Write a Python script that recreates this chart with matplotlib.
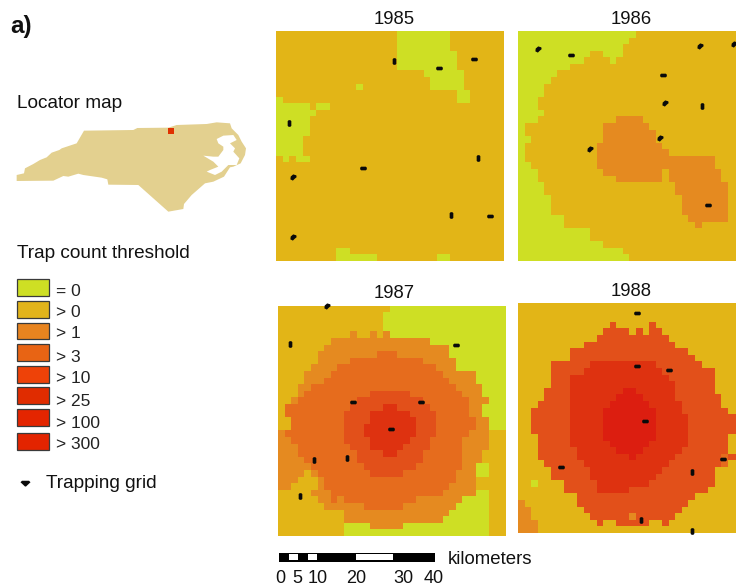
import matplotlib
matplotlib.use("Agg")
import matplotlib.pyplot as plt
import numpy as np
from matplotlib.colors import to_rgb
from matplotlib.patches import Rectangle, Polygon
from matplotlib.path import Path

plt.rcParams['font.family'] = ['Liberation Sans', 'DejaVu Sans']
W, H = 736, 587

# class colours on the maps / in the legend
map_colors = ['#CEDF24', '#E2B517', '#E58A20', '#E66C1D', '#E2501A', '#DE3210', '#DC1E10']
legend_colors = ['#CEDF24', '#E2B41B', '#E8841F', '#E86414', '#EE4208', '#E02C00', '#E42500', '#E32400']
legend_labels = ['= 0', '> 0', '> 1', '> 3', '> 10', '> 25', '> 100', '> 300']

# each row: "startcol:class" runs
rows_1985 = [
 "0:1 18:0 26:1", "0:1 18:0 26:1", "0:1 18:0 26:1", "0:1 18:0 27:1", "0:1 18:0 27:1",
 "0:1 18:0 27:1", "0:1 22:0 28:1", "0:1 23:0 28:1", "0:1 12:0 13:1 23:0 28:1", "0:1 27:0 29:1",
 "0:0 1:1 27:0 29:1", "0:0 5:1 6:0 8:1", "0:0 6:1", "0:0 5:1", "0:0 5:1",
 "0:0 5:1", "0:0 4:1", "0:0 4:1", "0:0 4:1", "0:1 1:0 2:1 3:0 5:1",
 "0:1", "0:1", "0:1", "0:1", "0:1", "0:1", "0:1", "0:1", "0:1", "0:1",
 "0:1", "0:1", "0:1", "0:1 9:0 11:1", "0:1 9:0 15:1 24:0 26:1",
]
rows_1986 = [
 "0:0 18:1", "0:0 17:1", "0:0 16:1", "0:0 11:1 13:0 16:1", "0:0 10:1 14:0 15:1",
 "0:0 8:1", "0:0 6:1", "0:0 5:1", "0:0 4:1", "0:0 4:1",
 "0:0 3:1", "0:0 3:1", "0:0 4:1", "0:0 3:1 15:2 19:1", "0:0 1:1 13:2 20:1",
 "0:0 1:1 13:2 21:1", "0:0 2:1 13:2 21:1", "0:0 1:1 12:2 22:1", "0:0 1:1 12:2 23:1", "0:0 1:1 12:2 30:1",
 "0:0 2:1 12:2 30:1", "0:0 3:1 13:2 22:1 23:2 31:1", "0:0 3:1 15:2 22:1 23:2 31:1", "0:0 4:1 24:2 32:1", "0:0 4:1 24:2 32:1",
 "0:0 5:1 25:2 32:1", "0:0 5:1 25:2 32:1", "0:0 5:1 25:2 32:1", "0:0 7:1 26:2 32:1", "0:0 7:1 27:2 28:1",
 "0:0 11:1", "0:0 11:1", "0:0 13:1", "0:0 16:1", "0:0 17:1",
]
rows_1987 = [
 "0:1 17:0", "0:1 16:0", "0:1 16:0", "0:1 16:0", "0:1 11:2 12:1 14:2 15:1 16:2 17:0",
 "0:1 8:2 23:0", "0:1 7:2 26:0", "0:1 6:2 15:3 18:2 26:0", "0:1 6:2 11:3 22:2 27:0", "0:1 5:2 9:3 24:2 27:0",
 "0:1 4:2 8:3 25:2 30:0", "0:1 4:2 7:3 26:2 30:0", "0:1 3:2 5:3 27:2 31:0", "0:1 3:2 4:3 14:4 20:3 28:2 31:0",
 "0:1 2:2 3:3 12:4 22:3 29:2 32:0", "0:1 1:3 11:4 16:5 18:4 23:3 29:2 31:0", "0:1 1:3 10:4 14:5 20:4 24:3 29:2 31:0",
 "0:1 2:3 10:4 14:5 21:4 24:3 30:2 32:0", "0:1 2:3 10:4 13:5 21:4 24:3 30:2 32:0", "0:2 1:3 10:4 13:5 21:4 24:3 29:2 32:1",
 "0:2 2:3 10:4 14:5 20:4 23:3 28:2 32:1", "0:2 3:3 11:4 14:5 19:4 23:3 28:2 32:1", "0:2 3:3 12:4 16:5 18:4 22:3 28:2 31:1",
 "0:2 4:3 12:4 22:3 28:2 31:1", "0:2 5:3 13:4 21:3 28:2 30:0 32:1", "0:2 4:1 5:2 6:3 14:4 19:3 27:2 30:0 32:1",
 "0:2 3:1 6:2 7:3 27:2 30:1", "0:2 2:1 6:2 7:3 26:2 30:1", "0:1 5:2 8:3 25:2 30:0 32:1",
 "0:1 6:2 8:3 9:2 10:3 21:2 28:0 32:1", "0:1 7:2 13:3 19:2 27:0 32:1", "0:1 10:2 26:0 32:1", "0:1 10:2 25:0 32:1",
 "0:1 10:0 14:2 19:0 32:1", "0:1 10:0 32:1",
]
rows_1988 = [
 "0:1", "0:1", "0:1", "0:1 14:4 15:1 20:4 21:1", "0:1 13:4 17:1 18:4 19:1 20:4 22:1",
 "0:1 12:4 23:1", "0:1 10:4 24:1", "0:1 8:4 26:1", "0:1 8:4 27:1", "0:1 5:4 11:5 21:4 28:1",
 "0:1 5:4 10:5 22:4 30:1", "0:1 5:4 8:5 23:4 30:1", "0:1 5:4 8:5 24:4 30:1", "0:1 4:4 8:5 16:6 18:5 24:4 30:1",
 "0:1 4:4 8:5 15:6 19:5 24:4 31:1", "0:1 3:4 8:5 14:6 20:5 25:4 31:1", "0:1 2:4 8:5 13:6 21:5 25:4 32:1",
 "0:1 2:4 8:5 13:6 21:5 26:4", "0:1 2:4 8:5 13:6 21:5 26:4", "0:1 2:4 8:5 13:6 21:5 26:4",
 "0:1 3:4 8:5 13:6 21:5 26:4 32:1", "0:1 3:4 8:5 14:6 20:5 26:4 32:1", "0:1 3:4 9:5 15:6 19:5 25:4 32:1",
 "0:1 3:4 9:5 17:6 18:5 24:4 31:3 32:4", "0:1 4:4 10:5 23:4 31:3 32:1", "0:1 5:4 11:5 22:4 30:1", "0:1 5:4 11:5 21:4 30:1",
 "0:1 2:0 3:1 7:4 12:5 20:4 30:1", "0:1 7:4 12:5 17:4 29:1", "0:1 9:4 27:1", "0:2 1:1 9:4 26:1", "0:2 2:1 10:4 25:1",
 "0:2 2:1 11:4 17:2 18:4 24:1", "0:2 3:1 12:4 13:1 15:4 20:1 22:4 23:1", "0:2 3:1",
]

# trap positions in grid cells: (col, row, shape)
traps_1985 = [(17.57,4.57,'v'),(24.27,5.63,'h'),(29.48,4.30,'h'),(1.94,14.06,'v'),(30.07,19.39,'v'),
              (12.95,20.82,'h'),(2.48,22.18,'b'),(26.05,28.02,'v'),(31.91,28.22,'h'),(2.48,31.32,'b')]
traps_1986 = [(3.05,2.74,'b'),(8.07,3.70,'h'),(27.77,2.23,'b'),(33.0,1.98,'b'),(22.03,6.65,'h'),
              (22.44,10.96,'b'),(28.07,11.37,'v'),(21.68,16.30,'b'),(10.91,17.92,'b'),(29.04,26.45,'h')]
traps_1987 = [(7.41,0.05,'b'),(1.83,5.79,'v'),(27.2,5.99,'h'),(11.47,14.57,'h'),(21.83,14.57,'h'),
              (17.26,18.78,'h'),(10.51,23.1,'v'),(5.48,23.5,'v'),(3.4,28.9,'v')]
traps_1988 = [(18.12,1.52,'h'),(18.12,9.7,'h'),(23.05,10.25,'h'),(19.29,18.07,'h'),(6.5,25.03,'h'),
              (31.27,23.8,'h'),(26.55,25.69,'v'),(18.73,33.1,'v'),(26.5,34.72,'v')]

# locator map outline and sounds (picture units)
nc_x = [50,72,75,100,120,140,155,178,185,215,230,252,400,412,505,530,620,650,690,695,715,725,738,735,722,700,690,672,640,615,575,552,550,505,415,325,322,305,250,235,205,190,160,50]
nc_y = [285,280,265,252,240,232,218,210,205,195,190,152,150,144,143,135,132,127,130,145,165,185,205,225,250,260,262,290,305,310,345,372,387,395,315,314,298,293,285,281,290,288,302,303]
sound_x = [650,670,700,710,690,705,700,718,710,685,665,645,620,630,655,640,610,640,655,670,670,655]
sound_y = [177,167,165,180,190,205,215,235,255,255,275,285,275,270,260,245,227,230,230,210,200,190]

scale_edges_km = [0, 2.49, 4.89, 7.38, 9.7, 19.74, 29.18, 40]
scale_fill = ['k', 'w', 'k', 'w', 'k', 'w', 'k']
scale_labels = ['0', '5', '10', '20', '30', '40']
scale_label_km = [0.2, 4.6, 9.8, 19.9, 31.9, 39.7]

def px_axes(x0, y0, x1, y1):
    return fig.add_axes([x0/W, 1-y1/H, (x1-x0)/W, (y1-y0)/H])

def grid(rows, ncols):
    g = np.zeros((len(rows), ncols), dtype=int)
    for i, r in enumerate(rows):
        for run in r.split():
            s, v = run.split(':')
            g[i, int(s):] = int(v)
    return g

pill_h = [(-1,-0.25),(-0.7,-0.55),(0.7,-0.55),(1,-0.25),(1,0.25),(0.7,0.55),(-0.7,0.55),(-1,0.25),(-1,-0.25)]
pill_v = [(y, x) for x, y in pill_h]
blob = [(-1,-0.6),(-0.9,0.3),(-0.1,1),(0.9,0.7),(1,0.1),(0.4,-0.4),(-0.2,-1),(-1,-0.6)]
marks = {'h': (Path(pill_h), 23), 'v': (Path(pill_v), 23), 'b': (Path(blob), 20)}
legend_mark = Path([(-1,0.25),(-0.7,0.55),(0.7,0.55),(1,0.25),(0.1,-0.6),(-0.1,-0.6),(-1,0.25)])

fig = plt.figure(figsize=(W/100, H/100), dpi=100)
rgb = np.array([to_rgb(c) for c in map_colors])

panels = [
    (rows_1985, traps_1985, 34, 34.0, (276, 31, 504, 261), '1985', 394, 19),
    (rows_1986, traps_1986, 34, 33.25, (518.3, 31, 736, 261), '1986', 631, 19),
    (rows_1987, traps_1987, 35, 34.6, (278, 306, 505, 536), '1987', 394, 293.5),
    (rows_1988, traps_1988, 34, 33.25, (518.3, 302.7, 736, 532.7), '1988', 631, 291),
]
for rows, traps, nc, vis, box, title, tx, ty in panels:
    ax = px_axes(*box)
    ax.imshow(rgb[grid(rows, nc)], extent=(0, nc, 35, 0), aspect='auto', interpolation='nearest')
    ax.set_xlim(0, vis); ax.set_ylim(35, 0)
    ax.axis('off')
    for kind, (m, s) in marks.items():
        pts = [(c, r) for c, r, k in traps if k == kind]
        if pts:
            p = np.array(pts)
            ax.scatter(p[:, 0], p[:, 1], marker=m, s=s, color='#0A0A0A', linewidths=0, clip_on=False, zorder=3)

# overlay for text, legend, locator, in picture pixels
ov = fig.add_axes([0, 0, 1, 1], facecolor='none')
ov.set_xlim(0, W); ov.set_ylim(H, 0); ov.axis('off')

for rows, traps, nc, vis, box, title, tx, ty in panels:
    ov.text(tx, ty, title, ha='center', va='center', fontsize=13.3, color='#111111')

ov.text(10.5, 27, 'a)', fontsize=17.5, fontweight='bold', ha='left', va='center', color='#111111')
ov.text(17, 103, 'Locator map', fontsize=13.7, ha='left', va='center', color='#111111')
ov.text(17, 253, 'Trap count threshold', fontsize=13.7, ha='left', va='center', color='#111111')

nc_px = np.column_stack([np.array(nc_x)/3, 80+np.array(nc_y)/3])
sound_px = np.column_stack([np.array(sound_x)/3, 80+np.array(sound_y)/3])
ov.add_patch(Polygon(nc_px, closed=True, fc='#E3D08F', ec='none'))
ov.add_patch(Polygon(sound_px, closed=True, fc='white', ec='none'))
ov.add_patch(Rectangle((168, 127.7), 6, 6.3, fc='#E03000', ec='none'))

sw_top = [279.3, 301, 322.7, 344.3, 366, 387.3, 409.3, 433.3]
lab_y = [291.5, 312.5, 333, 357.5, 378.5, 401.5, 423.5, 444.5]
for c, t, top, ly in zip(legend_colors, legend_labels, sw_top, lab_y):
    ov.add_patch(Rectangle((16.5, top), 32.5, 16.6, fc=c, ec='#3A3A3A', lw=0.9))
    ov.text(56, ly, t, fontsize=12.5, ha='left', va='center', color='#222222')

ov.scatter([24.5], [483], marker=legend_mark, s=52, color='#0A0A0A', linewidths=0)
ov.text(46, 484, 'Trapping grid', fontsize=13.7, ha='left', va='center', color='#111111')
ov.text(448, 559, 'kilometers', fontsize=13.4, ha='left', va='center', color='#111111')

sb = px_axes(279.3, 552, 434.7, 578)
sb.set_xlim(0, 40); sb.set_ylim(26, 0); sb.axis('off')
sb.add_patch(Rectangle((0, 0.7), 40, 9, fc='k', ec='none'))
for a, b, c in zip(scale_edges_km[:-1], scale_edges_km[1:], scale_fill):
    if c == 'w':
        sb.add_patch(Rectangle((a, 2.3), b-a, 6, fc='white', ec='none'))
for v, t in zip(scale_label_km, scale_labels):
    sb.text(v, 26.5, t, fontsize=13, ha='center', va='center', color='#111111', clip_on=False)

fig.savefig('out.png', dpi=100)
